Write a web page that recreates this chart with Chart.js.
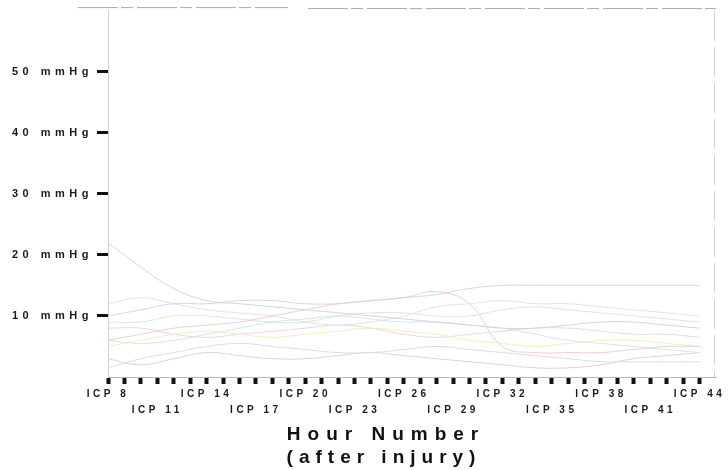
<!DOCTYPE html>
<html>
<head>
	<meta charset="utf-8">
	<script src="https://cdn.jsdelivr.net/npm/chart.js@4.4.1/dist/chart.umd.min.js"></script>
	<style>
		body { margin: 0; background: #fff; }
	</style>
</head>
<body>
	<canvas id="icp-chart" width="728" height="470"></canvas>
	<script>
		// Hours after injury (x values) and ICP readings in mmHg, one array per patient
		const hours = [8, 10, 12, 14, 16, 18, 20, 22, 24, 26, 28, 30, 32, 34, 36, 38, 40, 42, 44];
		const patientA = [22, 18, 14.5, 12.5, 12, 11.5, 11, 10.5, 10, 9.5, 9, 8.5, 8, 8, 8.5, 9, 9, 8.5, 8];
		const patientB = [6, 7, 8, 8.5, 9, 10, 11, 12, 12.5, 13, 14, 12, 5, 4, 4, 4, 4.5, 5, 5];
		const patientC = [10, 11, 12, 12, 12.5, 12.5, 12, 12, 12.5, 13, 13.5, 14.5, 15, 15, 15, 15, 15, 15, 15];
		const patientD = [9, 9, 10, 10, 9.5, 9, 9, 10, 10.5, 10.5, 10, 10, 11, 11.5, 11, 10.5, 10, 9.5, 9];
		const patientE = [5, 6, 7, 7.5, 7, 6.5, 7, 7.5, 8, 7.5, 7, 6, 5.5, 5, 5.5, 6, 6, 5.5, 5];
		const patientF = [1.5, 3, 4, 5, 5.5, 5, 4.5, 4, 4, 4.5, 5, 4.5, 4, 3.5, 3, 2.5, 2.5, 2.5, 2.5];
		const patientG = [8, 8, 7, 6.5, 7, 7.5, 8, 8.5, 8, 7, 6.5, 7, 7.5, 8, 8, 7.5, 7, 7, 6.5];
		const patientH = [6, 5.5, 6, 7, 8, 9, 9.5, 10, 9.5, 9, 9, 8.5, 8, 7, 6, 5.5, 5, 4.5, 4];
		const patientI = [12, 13, 12, 11, 10.5, 10, 9, 8.5, 9, 10, 11.5, 12, 12.5, 12, 12, 11.5, 11, 10.5, 10];
		const patientJ = [3, 2, 3, 4, 3.5, 3, 3, 3.5, 4, 3.5, 3, 2.5, 2, 1.5, 1.5, 2, 3, 3.5, 4];
		const yTickValues = [10, 20, 30, 40, 50];
		const xTitleLines = ['Hour Number', '(after injury)'];

		const patients = [patientA, patientB, patientC, patientD, patientE,
			patientF, patientG, patientH, patientI, patientJ];
		const colors = ['#d4d4d4', '#f2cbd2', '#cfd7ef', '#d8eAd2', '#edf0bc',
			'#dcdcdc', '#e8d6e8', '#d3e5ea', '#e2e2e2', '#ddd6c8'];

		const FONT = '"Liberation Sans", Arial, sans-serif';

		// Chart.js has no letter-spacing option, so wrap the label drawing
		const spacing = { x: '3.5px', y: '4.5px' };
		const letterSpacingPlugin = {
			id: 'letterSpacing',
			beforeDraw(chart) {
				for (const id of ['x', 'y']) {
					const s = chart.scales[id];
					if (s._spaced) continue;
					const orig = s.drawLabels.bind(s);
					s.drawLabels = function (area) {
						const c = this.ctx;
						c.save();
						c.letterSpacing = spacing[id];
						orig(area);
						c.restore();
					};
					s._spaced = true;
				}
			}
		};

		// frame lines and the off-centre axis title
		const framePlugin = {
			id: 'frame',
			afterDraw(chart) {
				const { ctx, chartArea: a } = chart;
				ctx.save();
				ctx.strokeStyle = '#a8a8a8';
				ctx.lineWidth = 1;
				ctx.setLineDash([40, 3, 12, 4]);
				ctx.beginPath();
				ctx.moveTo(a.left - 30, a.top - 3);
				ctx.lineTo(a.left + 180, a.top - 3);
				ctx.moveTo(a.left + 200, a.top - 2);
				ctx.lineTo(a.right, a.top - 2);
				ctx.stroke();
				ctx.strokeStyle = '#d4d4d4';
				ctx.setLineDash([30, 6]);
				ctx.beginPath();
				ctx.moveTo(a.right - 1.5, a.top);
				ctx.lineTo(a.right - 1.5, a.bottom);
				ctx.stroke();

				ctx.setLineDash([]);
				ctx.fillStyle = '#111';
				ctx.textAlign = 'center';
				ctx.textBaseline = 'middle';
				ctx.font = 'bold 19px ' + FONT;
				ctx.letterSpacing = '7px';
				ctx.fillText(xTitleLines[0], a.left + 278, a.bottom + 58);
				ctx.letterSpacing = '6px';
				ctx.fillText(xTitleLines[1], a.left + 276, a.bottom + 81);
				ctx.restore();
			}
		};

		const datasets = patients.map((vals, i) => ({
			data: hours.map((h, k) => ({ x: h, y: vals[k] })),
			borderColor: colors[i],
			borderWidth: 1,
			pointRadius: 0,
			tension: 0.4,
			fill: false
		}));

		new Chart(document.getElementById('icp-chart'), {
			type: 'line',
			data: { datasets: datasets },
			options: {
				responsive: false,
				animation: false,
				layout: { padding: { left: 0, right: 12, top: 8, bottom: 0 } },
				plugins: {
					legend: { display: false },
					tooltip: { enabled: false }
				},
				scales: {
					x: {
						type: 'linear',
						min: 8,
						max: 45,
						afterBuildTicks: s => { s.ticks = s.ticks.filter(t => t.value <= 44); },
						afterFit: s => { s.height = 93; s.paddingLeft = 0; s.paddingRight = 0; },
						grid: {
							drawOnChartArea: false,
							tickLength: 7,
							tickWidth: 4,
							tickColor: '#111'
						},
						border: { color: '#b8b8b8', dash: [8, 3] },
						ticks: {
							stepSize: 1,
							autoSkip: false,
							maxRotation: 0,
							padding: 2,
							color: '#1a1a1a',
							font: { family: FONT, size: 10, weight: 'bold', lineHeight: 1.6 },
							callback: v => {
								if ((v - 8) % 3 !== 0) return '';
								return ((v - 8) / 3) % 2 === 0 ? ['ICP ' + v] : ['', 'ICP ' + v];
							}
						}
					},
					y: {
						min: 0,
						max: 60,
						afterBuildTicks: s => { s.ticks = yTickValues.map(v => ({ value: v })); },
						afterFit: s => { s.width = 108; },
						grid: {
							drawOnChartArea: false,
							tickLength: 11,
							tickWidth: 3,
							tickColor: '#111'
						},
						border: { color: '#d0d0d0' },
						ticks: {
							padding: 4,
							color: '#1a1a1a',
							font: { family: FONT, size: 11, weight: 'bold' },
							callback: v => v + ' mmHg'
						}
					}
				}
			},
			plugins: [letterSpacingPlugin, framePlugin]
		});
	</script>
</body>
</html>
